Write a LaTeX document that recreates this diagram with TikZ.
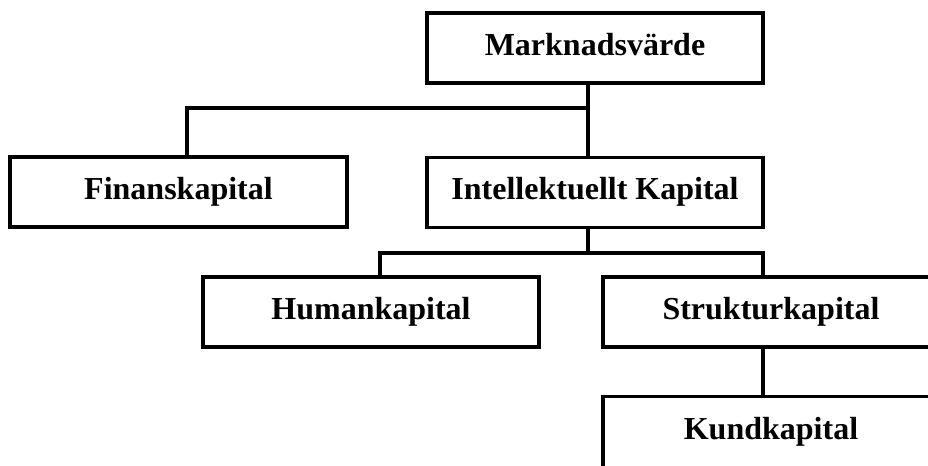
\documentclass[tikz,border=0pt]{standalone}
\usepackage{fontspec}
\setmainfont{Liberation Serif}
\usetikzlibrary{positioning}

\begin{document}
\begin{tikzpicture}[x=0.75pt,y=0.75pt,yscale=-1,xscale=1,
    kapbox/.style={draw,line width=2.5pt,fill=white,minimum width=252pt,minimum height=52.5pt,
      inner sep=0pt,text height=16.8pt,text depth=6pt,font=\fontsize{24}{28}\selectfont\bfseries},
    kapline/.style={line width=2.5pt}]
        \useasboundingbox (0,0) rectangle (928,466);
        \clip (0,0) rectangle (928,466);
        % boxes
        \node [kapbox] (mv) at (595,48) {Marknadsvärde};
        \node [kapbox,minimum width=252.75pt] (fin) at (178.5,192) {Finanskapital};
        \node [kapbox] (ic) at (595,192.5) {Intellektuellt Kapital};
        \node [kapbox] (hum) at (371,312) {Humankapital};
        \node [kapbox] (str) at (771,312) {Strukturkapital};
        \node [kapbox,minimum height=54pt] (kund) at (771,432.5) {Kundkapital};
        % branch points
        \coordinate (b1) at (588,108);
        \coordinate (b1l) at (187,108);
        \coordinate (b2) at (588,253);
        \coordinate (b2l) at (380,253);
        \coordinate (b2r) at (763,253);
        % connectors
        \draw [kapline] (b1 |- mv.south) -- (b1) -- (b1l) -- (b1l |- fin.north);
        \draw [kapline] (b1) -- (b1 |- ic.north);
        \draw [kapline] (b2 |- ic.south) -- (b2);
        \draw [kapline] (b2l |- hum.north) -- (b2l) -- (b2r) -- (b2r |- str.north);
        \draw [kapline] (b2r |- str.south) -- (b2r |- kund.north);
\end{tikzpicture}
\end{document}
